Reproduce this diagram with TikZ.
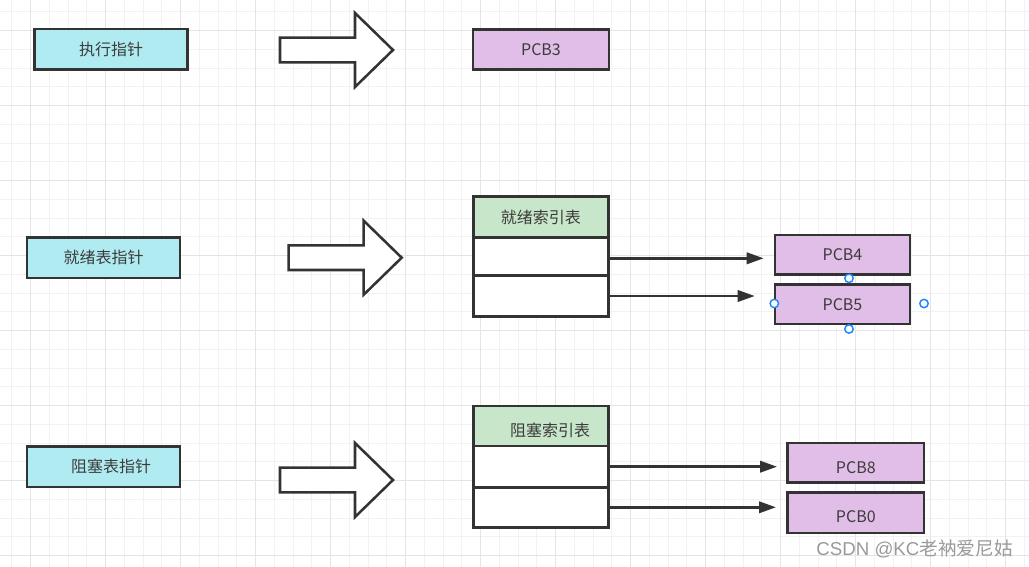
\documentclass[tikz,border=0pt]{standalone}
\usepackage{fontspec}
\setmainfont{Noto Sans CJK SC}
\newfontfamily\wmlatin{Liberation Sans}
\usetikzlibrary{arrows.meta}
\definecolor{gridminor}{HTML}{F2F2F2}
\definecolor{gridmajor}{HTML}{E4E4E4}
\definecolor{edge}{HTML}{333333}
\definecolor{txt}{HTML}{3C3C3C}
\definecolor{cyanfill}{HTML}{B1EBF2}
\definecolor{pcbfill}{HTML}{E1BEE7}
\definecolor{headfill}{HTML}{C8E6C9}
\definecolor{handleblue}{HTML}{1E88FF}
\definecolor{wm}{HTML}{9A9A9A}
\newcommand\lowtext[2]{\raisebox{-#1}[\height][\depth]{#2}}
\tikzset{
  blockarrow/.pic={
    \draw[draw=edge, fill=white, line width=1.9pt, line join=miter]
      (-113,-12.3) -- (-38,-12.3) -- (-38,-37) -- (0,0) -- (-38,37)
      -- (-38,12.3) -- (-113,12.3) -- cycle;
  },
  box/.style={draw=edge, line width=1.9pt, inner sep=0pt, text=txt,
    font=\fontsize{12pt}{14pt}\selectfont},
  ptr/.style={box, fill=cyanfill, minimum width=114.5pt, minimum height=30.4pt},
  pcb/.style={box, fill=pcbfill, minimum width=102pt, minimum height=30pt},
  headcell/.style={box, fill=headfill, minimum width=101.25pt},
  cell/.style={box, fill=white, minimum width=101.25pt},
  conn/.style={draw=edge, line width=1.9pt, -{Triangle[length=12.75pt,width=8.5pt]}},
  handle/.style={circle, draw=handleblue, fill=white, line width=1.1pt,
    minimum size=6.3pt, inner sep=0pt},
  minorline/.style={draw=gridminor, line width=0.75pt},
  majorline/.style={draw=gridmajor, line width=0.75pt},
}
\begin{document}
\begin{tikzpicture}[x=0.75pt, y=-0.75pt]
\useasboundingbox (0,0) rectangle (1029,567);
\fill[white] (0,0) rectangle (1029,567);
% grid
\foreach \i in {0,...,54} \draw[minorline] ({11.95+18.75*\i},0) -- ++(0,567);
\foreach \i in {0,...,30} \draw[minorline] (0,{11.95+18.75*\i}) -- ++(1029,0);
\foreach \i in {0,...,13} \draw[majorline] ({30.7+75*\i},0) -- ++(0,567);
\foreach \i in {0,...,7} \draw[majorline] (0,{30.7+75*\i}) -- ++(1029,0);

% big arrows
\pic at (393,50) {blockarrow};
\pic at (401.7,257.7) {blockarrow};
\pic at (393,480) {blockarrow};

% pointer boxes
\node[ptr] (e1) at (111,49.3) {执行指针};
\node[ptr] (e2) at (103.5,257.8) {就绪表指针};
\node[ptr] (e3) at (103.5,466.7) {\hspace*{11.25pt}阻塞表指针};

% PCB3
\node[pcb] (p3) at (541,49.3) {PCB3};

% ready table
\node[headcell, minimum height=30.45pt] (t1h) at (540.8,217) {就绪索引表};
\node[cell, minimum height=28.8pt] (t1a) at (540.8,256.5) {};
\node[cell, minimum height=30.45pt] (t1b) at (540.8,296) {};

% blocked table
\node[headcell, minimum height=30pt] (t2h) at (540.8,426) {\hspace*{14pt}\lowtext{3.5pt}{阻塞索引表}};
\node[cell, minimum height=31pt] (t2a) at (540.8,466.7) {};
\node[cell, minimum height=30pt] (t2b) at (540.8,507.3) {};

% PCBs
\node[pcb, minimum width=101.25pt, minimum height=29.8pt] (p4) at (842.5,254.8) {PCB4};
\node[pcb, minimum width=101.25pt, minimum height=29.8pt] (p5) at (842.5,304.2) {PCB5};
\node[pcb, minimum width=102.2pt, minimum height=29.5pt] (p8) at (855.8,462.7) {\lowtext{3.4pt}{PCB8}};
\node[pcb, minimum width=102.2pt, minimum height=30.2pt] (p0) at (855.8,512.8) {\lowtext{3pt}{PCB0}};

% connectors
\draw[conn, shorten >=7.5pt] ([yshift=-1.35pt]t1a.east) -- ([yshift=-1.35pt]t1a.east -| p4.west);
\draw[conn, shorten >=14.25pt] (t1b.east) -- (t1b.east -| p5.west);
\draw[conn, shorten >=7pt] (t2a.east) -- (t2a.east -| p8.west);
\draw[conn, shorten >=7.8pt] (t2b.east) -- (t2b.east -| p0.west);

% selection handles
\node[handle] (hn) at (849,278.3) {};
\node[handle] (hw) at (774.3,303.5) {};
\node[handle] (he) at (924,303.5) {};
\node[handle] (hs) at (849,329) {};

% watermark
\node[anchor=east, text=wm, inner sep=0pt, font=\fontsize{14pt}{16pt}\selectfont] (wmk) at (1013,549) {{\wmlatin CSDN @KC}老衲爱尼姑};
\end{tikzpicture}
\end{document}
